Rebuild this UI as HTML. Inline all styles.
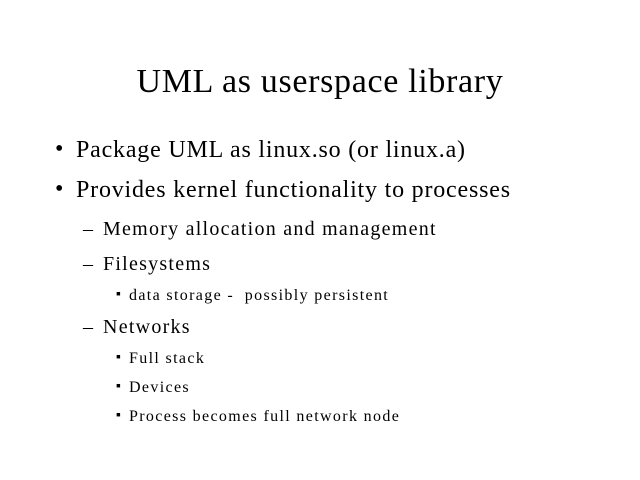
<!DOCTYPE html>
<html><head><style>
body{margin:0;width:640px;height:480px;background:#fff;position:relative;overflow:hidden;font-family:"Liberation Serif",serif;color:#000}
.t{position:absolute;white-space:nowrap;line-height:1}
.a{font-size:24px;letter-spacing:0.8px}
.b{font-size:20px;letter-spacing:1.25px}
.c{font-size:16px;letter-spacing:1.35px}
</style></head><body>
<div class="t" style="left:0;width:640px;text-align:center;top:65px;font-size:34px;letter-spacing:0.67px">UML as userspace library</div>
<div class="t" style="left:55px;top:137px;font-size:24px">•</div>
<div class="t a" style="left:76px;top:138px">Package UML as linux.so (or linux.a)</div>
<div class="t" style="left:55px;top:177px;font-size:24px">•</div>
<div class="t a" style="left:76px;top:178px">Provides kernel functionality to processes</div>
<div class="t" style="left:83px;top:219px;font-size:20px">–</div>
<div class="t b" style="left:103px;top:219px">Memory allocation and management</div>
<div class="t" style="left:83px;top:254px;font-size:20px">–</div>
<div class="t b" style="left:103px;top:254px">Filesystems</div>
<div class="t" style="left:116px;top:288px;font-size:14px">▪</div>
<div class="t c" style="left:129px;top:288px">data storage - &nbsp;possibly persistent</div>
<div class="t" style="left:83px;top:317px;font-size:20px">–</div>
<div class="t b" style="left:103px;top:317px">Networks</div>
<div class="t" style="left:116px;top:351px;font-size:14px">▪</div>
<div class="t c" style="left:129px;top:351px">Full stack</div>
<div class="t" style="left:116px;top:380px;font-size:14px">▪</div>
<div class="t c" style="left:129px;top:380px">Devices</div>
<div class="t" style="left:116px;top:409px;font-size:14px">▪</div>
<div class="t c" style="left:129px;top:409px">Process becomes full network node</div>
</body></html>
